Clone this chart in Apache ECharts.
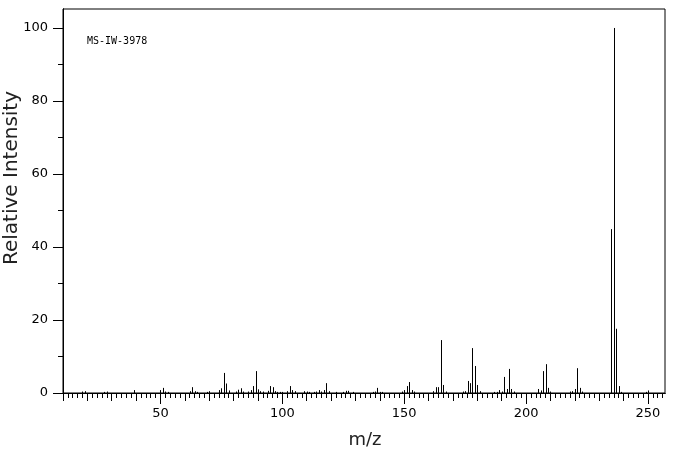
<!DOCTYPE html>
<html>
<head>
<meta charset="utf-8">
<script src="https://cdn.jsdelivr.net/npm/echarts@6/dist/echarts.min.js"></script>
<style>
  html, body { margin: 0; padding: 0; background: #fff; }
  #chart { width: 676px; height: 455px; }
</style>
</head>
<body>
<div id="chart"></div>
<script>
// peak positions (m/z) and relative intensities
const mz = [18, 19, 27, 28, 39, 50, 51, 52, 53, 62, 63, 64, 65, 69, 70,
  74, 75, 76, 77, 78, 81, 82, 83, 84, 86, 87, 88, 89, 90, 91, 92,
  94, 95, 96, 97, 98, 99, 100, 102, 103, 104, 105, 109, 110, 111,
  113, 114, 115, 116, 117, 118, 119, 122, 125, 126, 127, 129,
  137, 138, 139, 140, 141, 149, 150, 151, 152, 153, 154,
  162, 163, 164, 165, 166, 167, 174, 175, 176, 177, 178, 179, 180, 181,
  187, 188, 189, 190, 191, 192, 193, 194, 195, 205, 206, 207, 208, 209, 210,
  218, 219, 220, 221, 222, 223, 235, 236, 237, 238, 239, 249, 250];
const intensity = [0.4, 0.5, 0.3, 0.4, 0.8, 0.8, 1.4, 0.4, 0.3, 0.5, 1.6, 0.5, 0.3, 0.3, 0.5,
  0.8, 1.3, 5.5, 2.6, 0.7, 0.4, 0.9, 1.3, 0.4, 0.4, 0.8, 1.9, 6.0, 1.0, 0.5, 0.4,
  0.6, 1.9, 1.6, 0.5, 0.3, 0.3, 0.3, 0.5, 1.9, 0.8, 0.5, 0.5, 0.4, 0.3,
  0.3, 0.4, 0.8, 0.4, 0.8, 2.7, 0.5, 0.3, 0.3, 0.6, 0.6, 0.3,
  0.3, 0.4, 1.4, 0.3, 0.3, 0.4, 0.8, 1.9, 3.0, 0.8, 0.4,
  0.5, 1.6, 1.6, 14.5, 2.2, 0.4, 0.4, 0.5, 3.3, 2.7, 12.3, 7.4, 2.2, 0.5,
  0.3, 0.3, 0.8, 0.4, 4.4, 1.1, 6.6, 1.1, 0.4, 1.1, 0.7, 6.0, 7.9, 1.4, 0.4,
  0.4, 0.5, 1.1, 6.8, 1.4, 0.4, 44.9, 100, 17.6, 1.9, 0.3, 0.3, 0.7];

const xLabels = [50, 100, 150, 200, 250];
const yLabels = [0, 20, 40, 60, 80, 100];
const xMin = 10, xMax = 257;
const yMax = 105.2;

// tick positions: every 10 and every 2 along m/z, every 10 along intensity
const xMidTicks = [];
for (let v = 10; v <= 250; v += 10) xMidTicks.push(v);
const xMinorTicks = [];
for (let v = 10; v <= 256; v += 2) xMinorTicks.push(v);
const yMinorTicks = [0, 10, 20, 30, 40, 50, 60, 70, 80, 90, 100];

const peaks = mz.map((m, i) => [m, intensity[i]]);

const labelFont = { color: '#000', fontFamily: 'DejaVu Sans', fontSize: 13 };

function xAxisBase(extra) {
  return Object.assign({
    type: 'value', min: xMin, max: xMax, position: 'bottom',
    axisLine: { show: true, onZero: false, lineStyle: { color: '#000', width: 1 } },
    splitLine: { show: false }
  }, extra);
}
function yAxisBase(extra) {
  return Object.assign({
    type: 'value', min: 0, max: yMax, position: 'left',
    axisLine: { show: true, lineStyle: { color: '#000', width: 1 } },
    splitLine: { show: false }
  }, extra);
}

const chart = echarts.init(document.getElementById('chart'), null, { renderer: 'canvas' });

chart.setOption({
  animation: false,
  backgroundColor: '#fff',
  grid: {
    left: 63, top: 9, right: 11, bottom: 62,
    show: true, borderColor: '#000', borderWidth: 1
  },
  xAxis: [
    xAxisBase({
      axisTick: { show: true, length: 11, customValues: xLabels, lineStyle: { color: '#000' } },
      axisLabel: Object.assign({ customValues: xLabels, margin: 14 }, labelFont)
    }),
    xAxisBase({
      axisTick: { show: true, length: 8, customValues: xMidTicks, lineStyle: { color: '#000' } },
      axisLabel: { show: false }
    }),
    xAxisBase({
      axisTick: { show: true, length: 5, customValues: xMinorTicks, lineStyle: { color: '#000' } },
      axisLabel: { show: false }
    })
  ],
  yAxis: [
    yAxisBase({
      axisTick: { show: true, length: 10, customValues: yLabels, lineStyle: { color: '#000' } },
      axisLabel: Object.assign({ customValues: yLabels, margin: 15 }, labelFont)
    }),
    yAxisBase({
      axisTick: { show: true, length: 5, customValues: yMinorTicks, lineStyle: { color: '#000' } },
      axisLabel: { show: false }
    })
  ],
  graphic: [
    {
      type: 'text', left: 87, top: 36,
      style: { text: 'MS-IW-3978', fill: '#000', font: '10px "DejaVu Sans Mono"' }
    },
    {
      type: 'text', x: 12, y: 178, rotation: Math.PI / 2,
      style: {
        text: 'Relative Intensity', fill: '#222', font: '20px "DejaVu Sans"',
        align: 'center', verticalAlign: 'middle'
      }
    },
    {
      type: 'text', x: 365, y: 440,
      style: {
        text: 'm/z', fill: '#222', font: '18px "DejaVu Sans"',
        align: 'center', verticalAlign: 'middle'
      }
    }
  ],
  series: [{
    type: 'custom',
    xAxisIndex: 0,
    yAxisIndex: 0,
    data: peaks,
    renderItem: function (params, api) {
      const top = api.coord([api.value(0), api.value(1)]);
      const base = api.coord([api.value(0), 0]);
      const x = Math.round(top[0]) + 0.5;
      return {
        type: 'line',
        shape: { x1: x, y1: base[1], x2: x, y2: top[1] },
        style: { stroke: '#000', lineWidth: 1 }
      };
    }
  }]
});
</script>
</body>
</html>
